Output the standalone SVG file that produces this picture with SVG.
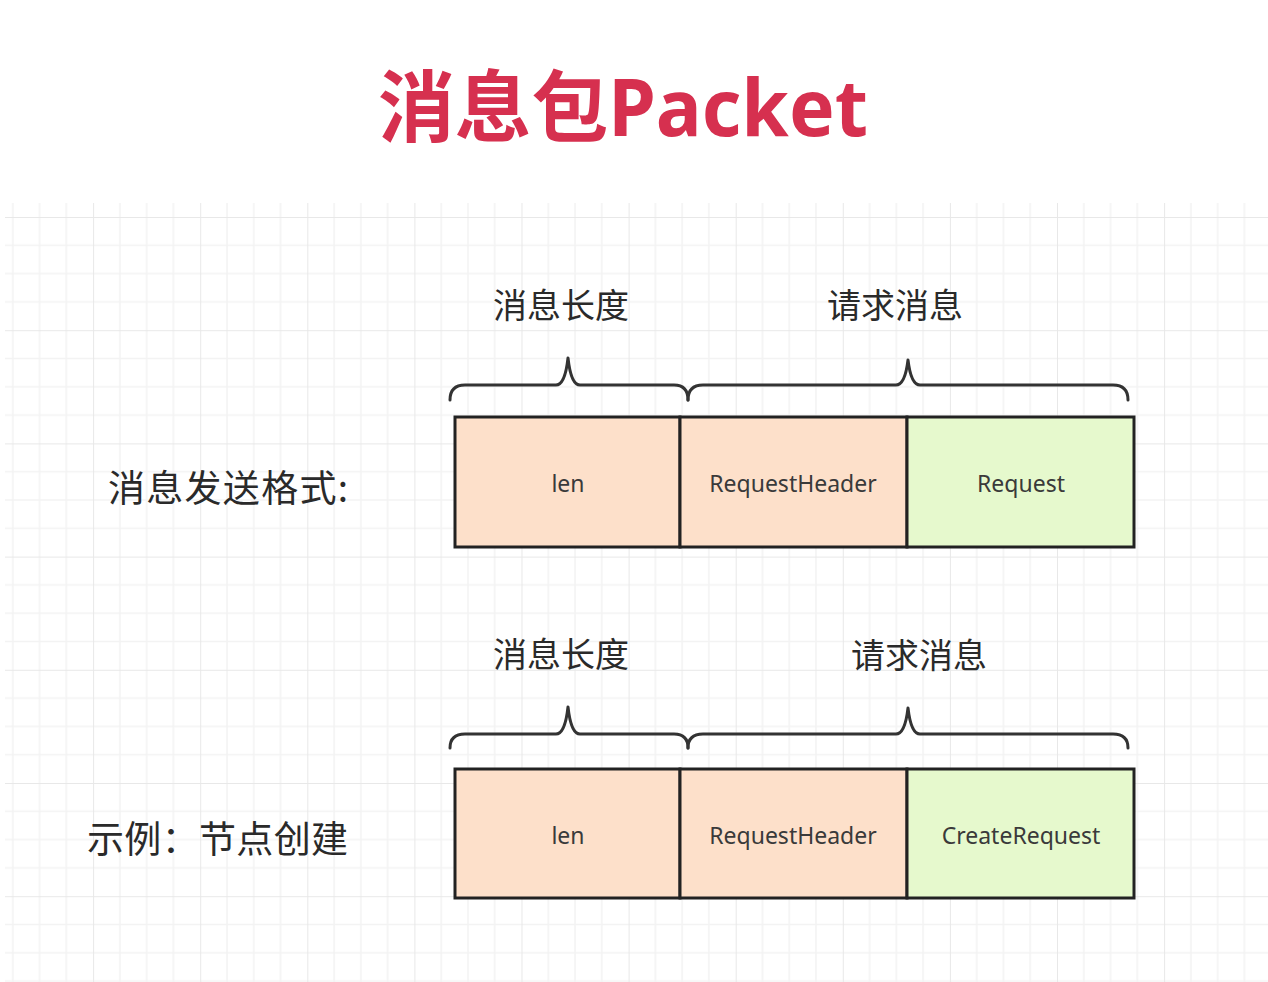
<svg xmlns="http://www.w3.org/2000/svg" width="1268" height="982" viewBox="0 0 1268 982">
<style>
.title{font-family:"Noto Sans","Noto Sans CJK SC",sans-serif;font-weight:bold;font-size:78px;fill:#d6304f}
.lbl{font-family:"Noto Sans CJK SC","Noto Sans",sans-serif;font-size:34px;fill:#2a2a2a}
.side{font-family:"Noto Sans CJK SC","Noto Sans",sans-serif;font-size:37px;fill:#2a2a2a}
.cell{stroke:#222;stroke-width:3}
.peach{fill:#fde0ca}
.green{fill:#e6f9cd}
.ctext{font-family:"Noto Sans","Noto Sans CJK SC",sans-serif;font-size:23px;fill:#3a3a3a;text-anchor:middle}
.brace{fill:none;stroke:#333;stroke-width:3;stroke-linecap:round;stroke-linejoin:round}
</style>
<defs>
<pattern id="grid" patternUnits="userSpaceOnUse" x="-14" y="217" width="107.1" height="113.2">
<g stroke="#f3f3f3" stroke-width="1.5">
<line x1="26.8" y1="0" x2="26.8" y2="113.2"/>
<line x1="53.6" y1="0" x2="53.6" y2="113.2"/>
<line x1="80.3" y1="0" x2="80.3" y2="113.2"/>
<line x1="0" y1="28.3" x2="107.1" y2="28.3"/>
<line x1="0" y1="56.6" x2="107.1" y2="56.6"/>
<line x1="0" y1="84.9" x2="107.1" y2="84.9"/>
</g>
<g stroke="#e8e8e8" stroke-width="2">
<line x1="0" y1="0" x2="0" y2="113.2"/>
<line x1="0" y1="0" x2="107.1" y2="0"/>
</g>
</pattern>
</defs>
<rect x="0" y="0" width="1268" height="982" fill="#ffffff"/>
<rect x="5" y="203" width="1263" height="779" fill="url(#grid)"/>

<text class="title" x="378" y="136" textLength="490" lengthAdjust="spacingAndGlyphs">消息包Packet</text>

<g id="label-format">
<text class="side" x="108" y="502" textLength="240" lengthAdjust="spacing">消息发送格式:</text>
</g>
<g id="label-example">
<text class="side" x="87" y="853" textLength="261" lengthAdjust="spacing">示例：节点创建</text>
</g>

<g id="connectors">
<path class="brace" d="M450,400 Q450,385 465,385 L556,385 Q565,385 568,358 Q571,385 580,385 L674,385 Q688,385 688,400"/>
<path class="brace" d="M688,400 Q688,385 703,385 L896,385 Q905,385 908,360 Q911,385 920,385 L1113,385 Q1128,385 1128,400"/>
<path class="brace" d="M450,748 Q450,734 465,734 L556,734 Q565,734 568,707 Q571,734 580,734 L674,734 Q688,734 688,748"/>
<path class="brace" d="M688,748 Q688,734 703,734 L896,734 Q905,734 908,708 Q911,734 920,734 L1113,734 Q1128,734 1128,748"/>
</g>

<g id="brace-labels">
<text class="lbl" x="561" y="318" text-anchor="middle">消息长度</text>
<text class="lbl" x="895" y="318" text-anchor="middle">请求消息</text>
<text class="lbl" x="561" y="667" text-anchor="middle">消息长度</text>
<text class="lbl" x="919" y="668" text-anchor="middle">请求消息</text>
</g>

<g id="row1-len">
<rect class="cell peach" x="455" y="417" width="225" height="130"/>
<text class="ctext" x="568" y="492">len</text>
</g>
<g id="row1-header">
<rect class="cell peach" x="680" y="417" width="227" height="130"/>
<text class="ctext" x="793" y="492">RequestHeader</text>
</g>
<g id="row1-request">
<rect class="cell green" x="907" y="417" width="227" height="130"/>
<text class="ctext" x="1021" y="492">Request</text>
</g>

<g id="row2-len">
<rect class="cell peach" x="455" y="769" width="225" height="129"/>
<text class="ctext" x="568" y="844">len</text>
</g>
<g id="row2-header">
<rect class="cell peach" x="680" y="769" width="227" height="129"/>
<text class="ctext" x="793" y="844">RequestHeader</text>
</g>
<g id="row2-request">
<rect class="cell green" x="907" y="769" width="227" height="129"/>
<text class="ctext" x="1021" y="844">CreateRequest</text>
</g>
</svg>
